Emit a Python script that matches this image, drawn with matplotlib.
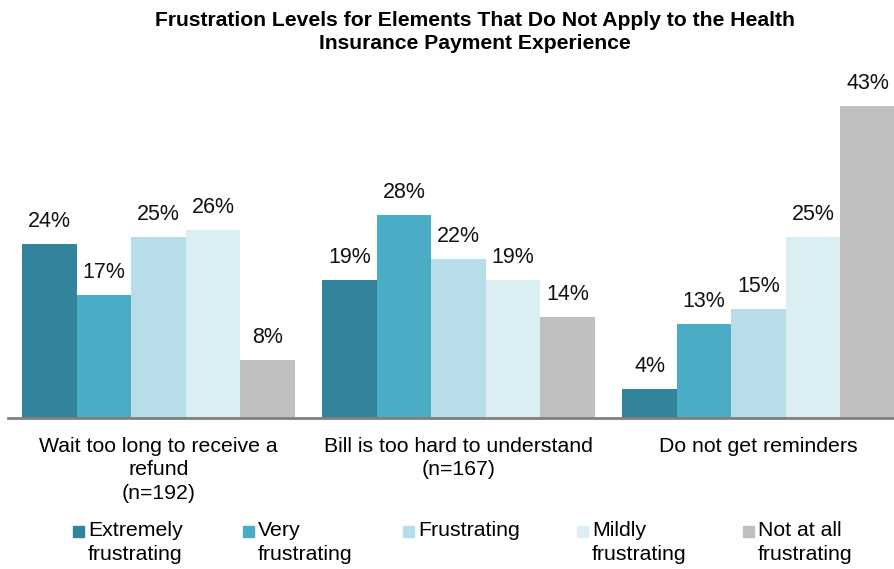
import matplotlib.pyplot as plt
import numpy as np
from matplotlib.patches import Rectangle

plt.rcParams['font.family'] = ['Liberation Sans', 'DejaVu Sans']

categories = [
    "Wait too long to receive a\nrefund\n(n=192)",
    "Bill is too hard to understand\n(n=167)",
    "Do not get reminders",
]
series_names = [
    "Extremely\nfrustrating",
    "Very\nfrustrating",
    "Frustrating",
    "Mildly\nfrustrating",
    "Not at all\nfrustrating",
]
values = [
    [24, 19, 4],
    [17, 28, 13],
    [25, 22, 15],
    [26, 19, 25],
    [8, 14, 43],
]
colors = ["#31849B", "#4BACC6", "#B7DEE8", "#DAEEF3", "#BFBFBF"]

fig = plt.figure(figsize=(8.95, 5.69), dpi=100)
ax = fig.add_axes([8 / 895, 151 / 569, 887 / 895, 348 / 569])

x = np.arange(len(categories))
width = 0.1816
for i, (name, vals, c) in enumerate(zip(series_names, values, colors)):
    pos = x + (i - 2) * width
    bars = ax.bar(pos, vals, width=width, color=c, edgecolor='none')
    for b, v in zip(bars, vals):
        ax.text(b.get_x() + b.get_width() / 2, v + 3.1, f"{v}%",
                ha='center', va='center', fontsize=15.5, color='#111111')

ax.set_xlim(-0.502, 2.455)
ax.set_ylim(0, 48)
for s in ['top', 'right', 'left']:
    ax.spines[s].set_visible(False)
ax.spines['bottom'].set_color('#808080')
ax.spines['bottom'].set_linewidth(2)
ax.set_yticks([])
ax.set_xticks(x)
ax.set_xticklabels(categories, fontsize=15.3, linespacing=1.3)
ax.tick_params(axis='x', length=0, pad=13.5)

fig.text(475 / 895, 1 - 32 / 569,
         "Frustration Levels for Elements That Do Not Apply to the Health\n"
         "Insurance Payment Experience",
         ha='center', va='center', fontsize=15.2, fontweight='bold',
         linespacing=1.3)

# legend laid out by hand to match the spacing of the original
leg_x = [73, 243, 403, 577, 743]
for lx, name, c in zip(leg_x, series_names, colors):
    fig.add_artist(Rectangle((lx / 895, 1 - 537 / 569), 11 / 895, 11 / 569,
                             transform=fig.transFigure, color=c))
    fig.text((lx + 15) / 895, 1 - 521 / 569, name, ha='left', va='top',
             fontsize=15.3, linespacing=1.3)

fig.savefig("out.png", dpi=100)
